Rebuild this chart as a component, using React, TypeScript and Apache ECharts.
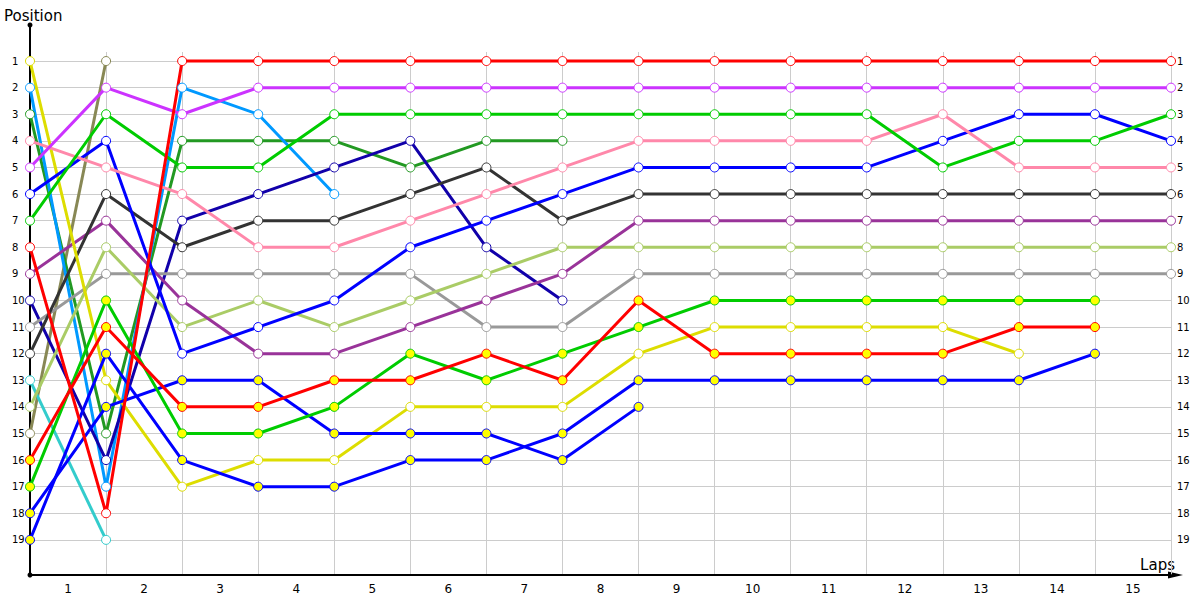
import React, { useEffect, useRef } from "react";
import * as echarts from "echarts";

// Lap indices 0..15 ; positions per lap (null = retired)
const laps = [0, 1, 2, 3, 4, 5, 6, 7, 8, 9, 10, 11, 12, 13, 14, 15];
const positionTicks = [1, 2, 3, 4, 5, 6, 7, 8, 9, 10, 11, 12, 13, 14, 15, 16, 17, 18, 19];
const lapLabelSlots = [0.5, 1.5, 2.5, 3.5, 4.5, 5.5, 6.5, 7.5, 8.5, 9.5, 10.5, 11.5, 12.5, 13.5, 14.5];

const redWhite = [8, 18, 1, 1, 1, 1, 1, 1, 1, 1, 1, 1, 1, 1, 1, 1];
const violet = [5, 2, 3, 2, 2, 2, 2, 2, 2, 2, 2, 2, 2, 2, 2, 2];
const greenWhite = [7, 3, 5, 5, 3, 3, 3, 3, 3, 3, 3, 3, 5, 4, 4, 3];
const pink = [4, 5, 6, 8, 8, 7, 6, 5, 4, 4, 4, 4, 3, 5, 5, 5];
const blueWhite = [6, 4, 12, 11, 10, 8, 7, 6, 5, 5, 5, 5, 4, 3, 3, 4];
const darkGray = [12, 6, 8, 7, 7, 6, 5, 7, 6, 6, 6, 6, 6, 6, 6, 6];
const purple = [9, 7, 10, 12, 12, 11, 10, 9, 7, 7, 7, 7, 7, 7, 7, 7];
const lightOlive = [14, 8, 11, 10, 11, 10, 9, 8, 8, 8, 8, 8, 8, 8, 8, 8];
const gray = [11, 9, 9, 9, 9, 9, 11, 11, 9, 9, 9, 9, 9, 9, 9, 9];
const yellow = [1, 13, 17, 16, 16, 14, 14, 14, 12, 11, 11, 11, 11, 12];
const navy = [10, 16, 7, 6, 5, 4, 8, 10];
const lightBlue = [2, 17, 2, 3, 6];
const forest = [3, 15, 4, 4, 4, 5, 4, 4];
const cyan = [13, 19];
const olive = [15, 1];
const redYellow = [16, 11, 14, 14, 13, 13, 12, 13, 10, 12, 12, 12, 12, 11, 11];
const greenYellow = [17, 10, 15, 15, 14, 12, 13, 12, 11, 10, 10, 10, 10, 10, 10];
const blueYellowA = [18, 14, 13, 13, 15, 15, 15, 16, 14];
const blueYellowB = [19, 12, 16, 17, 17, 16, 16, 15, 13, 13, 13, 13, 13, 13, 12];

const drivers = [
  { name: "olive", color: "#888855", fill: "#ffffff", data: olive },
  { name: "cyan", color: "#33cccc", fill: "#ffffff", data: cyan },
  { name: "forest", color: "#229922", fill: "#ffffff", data: forest },
  { name: "lightBlue", color: "#0099ff", fill: "#ffffff", data: lightBlue },
  { name: "navy", color: "#1100aa", fill: "#ffffff", data: navy },
  { name: "gray", color: "#999999", fill: "#ffffff", data: gray },
  { name: "lightOlive", color: "#aacc66", fill: "#ffffff", data: lightOlive },
  { name: "purple", color: "#993399", fill: "#ffffff", data: purple },
  { name: "darkGray", color: "#333333", fill: "#ffffff", data: darkGray },
  { name: "yellow", color: "#dddd00", fill: "#ffffff", data: yellow },
  { name: "blueYellowA", color: "#0000ff", fill: "#ffff00", data: blueYellowA },
  { name: "blueYellowB", color: "#0000ff", fill: "#ffff00", data: blueYellowB },
  { name: "greenYellow", color: "#00cc00", fill: "#ffff00", data: greenYellow },
  { name: "redYellow", color: "#ff0000", fill: "#ffff00", data: redYellow },
  { name: "blueWhite", color: "#0000ff", fill: "#ffffff", data: blueWhite },
  { name: "pink", color: "#ff88aa", fill: "#ffffff", data: pink },
  { name: "greenWhite", color: "#00cc00", fill: "#ffffff", data: greenWhite },
  { name: "violet", color: "#cc33ff", fill: "#ffffff", data: violet },
  { name: "redWhite", color: "#ff0000", fill: "#ffffff", data: redWhite },
];

const FONT = "DejaVu Sans";

export default function App() {
  const ref = useRef<HTMLDivElement>(null);
  useEffect(() => {
    if (!ref.current) return;
    const chart = echarts.init(ref.current, null, { renderer: "svg" });
    const yCommon = {
      type: "value",
      inverse: true,
      min: 0.66,
      max: 20.32,
    };
    chart.setOption({
      animation: false,
      backgroundColor: "#ffffff",
      grid: { left: 30, right: 29, top: 52, bottom: 25, containLabel: false },
      xAxis: {
        type: "value",
        min: 0,
        max: 15,
        interval: 1,
        axisLine: { show: true, onZero: false, lineStyle: { color: "#000", width: 2 } },
        axisTick: { show: false },
        splitLine: { show: true, lineStyle: { color: "#cccccc", width: 1 } },
        axisLabel: {
          customValues: lapLabelSlots,
          formatter: (v: number) => String(Math.round(v + 0.5)),
          color: "#000",
          fontFamily: FONT,
          fontSize: 12,
          margin: 8,
        },
      },
      yAxis: [
        {
          ...yCommon,
          position: "left",
          axisLine: { show: true, onZero: false, lineStyle: { color: "#000", width: 2 } },
          axisTick: { show: false, customValues: positionTicks },
          splitLine: { show: true, lineStyle: { color: "#cccccc", width: 1 } },
          axisLabel: {
            customValues: positionTicks,
            color: "#000",
            fontFamily: FONT,
            fontSize: 10,
            align: "left",
            margin: 18,
          },
        },
        {
          ...yCommon,
          position: "right",
          axisLine: { show: false },
          axisTick: { show: false, customValues: positionTicks },
          splitLine: { show: false },
          axisLabel: {
            customValues: positionTicks,
            color: "#000",
            fontFamily: FONT,
            fontSize: 10,
            align: "left",
            margin: 6,
          },
        },
      ],
      graphic: [
        { type: "line", shape: { x1: 30, y1: 25, x2: 30, y2: 53 }, style: { stroke: "#000", lineWidth: 2 } },
        { type: "circle", shape: { cx: 30, cy: 25, r: 2.5 }, style: { fill: "#000" } },
        { type: "circle", shape: { cx: 30, cy: 575, r: 2.5 }, style: { fill: "#000" } },
        { type: "line", shape: { x1: 1170, y1: 575, x2: 1178, y2: 575 }, style: { stroke: "#000", lineWidth: 2 } },
        { type: "polygon", shape: { points: [[1168, 571.5], [1183, 575], [1168, 578.5]] }, style: { fill: "#000" } },
        {
          type: "text",
          x: 4,
          y: 16,
          style: { text: "Position", fill: "#000", font: `15px '${FONT}'`, verticalAlign: "middle", align: "left" },
        },
        {
          type: "text",
          x: 1175,
          y: 565,
          style: { text: "Laps", fill: "#000", font: `15px '${FONT}'`, verticalAlign: "middle", align: "right" },
        },
      ],
      series: drivers.map((d) => ({
        name: d.name,
        type: "line",
        xAxisIndex: 0,
        yAxisIndex: 0,
        data: d.data.map((p, i) => [laps[i], p]),
        symbol: "circle",
        symbolSize: 9,
        showAllSymbol: true,
        lineStyle: { color: d.color, width: 3 },
        itemStyle: { color: d.fill, borderColor: d.color, borderWidth: 1 },
        emphasis: { disabled: true },
        silent: true,
      })),
    });
    return () => chart.dispose();
  }, []);
  return (
    <div
      ref={ref}
      style={{ position: "fixed", left: 0, top: 0, width: 1200, height: 600, background: "#fff" }}
    />
  );
}
